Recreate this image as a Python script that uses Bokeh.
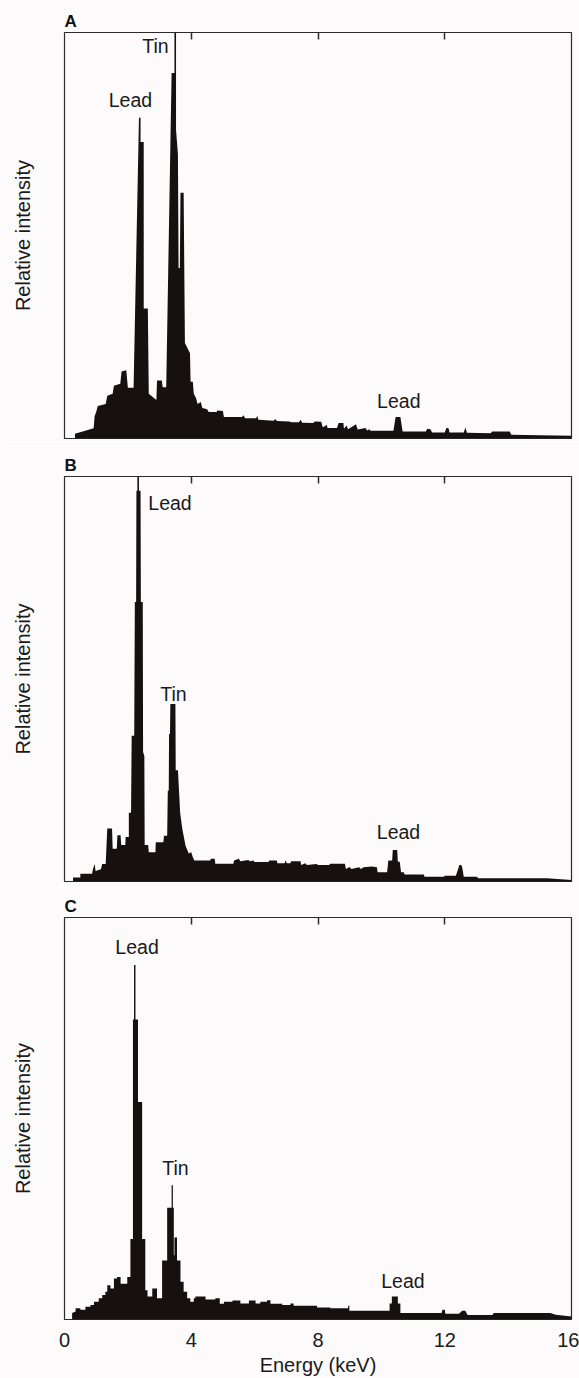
from bokeh.plotting import figure
from bokeh.layouts import column
from bokeh.models import Range1d, LinearAxis, FixedTicker, ColumnDataSource
from bokeh.core.properties import value
from bokeh.embed import file_html
from bokeh.resources import INLINE

FONT = "Liberation Sans"
BG = "#fdfafc"
INK = "#161010"
LINE = "#2b2b2b"

# ---------------- data (energy in keV, relative intensity in % of panel height) ----------------
energy_a = [0.33, 0.33, 0.6, 0.92, 0.95, 1.0, 1.05, 1.3, 1.35, 1.52, 1.56, 1.76, 1.8, 1.95, 2.0, 2.18,
            2.35, 2.4, 2.4, 2.5, 2.5, 2.63, 2.66, 2.9, 2.92, 3.07, 3.1, 3.21, 3.38, 3.47, 3.47, 3.52,
            3.52, 3.58, 3.6, 3.64, 3.66, 3.76, 3.8, 3.96, 3.98, 4.05, 4.08, 4.15, 4.2, 4.3, 4.35, 4.5,
            4.55, 4.8, 4.82, 5.0, 5.03, 5.6, 5.65, 5.7, 6.05, 6.08, 6.12, 6.6, 6.65, 6.7, 7.1, 7.15,
            7.4, 7.45, 7.5, 7.85, 7.9, 8.1, 8.15, 8.28, 8.3, 8.6, 8.65, 8.8, 8.82, 8.9, 8.95, 9.2,
            9.25, 9.5, 9.55, 9.62, 9.65, 10.38, 10.45, 10.6, 10.67, 11.4, 11.45, 11.55, 11.6, 12.0,
            12.05, 12.12, 12.15, 12.6, 12.65, 12.7, 13.45, 13.5, 14.05, 14.1, 15.0, 16.0, 16.0]
counts_a = [0, 1.2, 1.8, 2.5, 5.5, 6.5, 8, 8.5, 10.5, 11, 13, 13.5, 16.5, 16.8, 12.5, 12.5,
            79, 79, 73, 73, 32, 32, 11, 9.5, 14.3, 14.3, 12.6, 12.6, 90, 90, 100, 100,
            76, 70, 42, 42, 60.5, 60.5, 23.5, 21, 14, 14, 11, 10, 8.5, 9, 7.5, 7.2,
            6.5, 6.5, 6.9, 6.8, 5.3, 5.3, 5.7, 5.0, 5.0, 5.6, 4.6, 4.4, 4.8, 4.3, 4.2, 4.0,
            4.0, 4.6, 3.9, 3.8, 4.2, 4.1, 2.8, 3.3, 2.6, 2.6, 3.8, 3.8, 2.4, 3.2, 2.3, 3.5,
            2.2, 2.6, 2.0, 2.3, 1.9, 1.9, 5.3, 5.3, 1.7, 1.7, 2.4, 2.3, 1.5, 1.5,
            2.6, 2.5, 1.5, 1.5, 2.7, 1.4, 1.3, 1.7, 1.7, 0.9, 0.8, 0.65, 0]

energy_b = [0.27, 0.27, 0.5, 0.5, 0.87, 0.9, 0.95, 0.98, 1.15, 1.19, 1.3, 1.35, 1.5, 1.52, 1.65, 1.67,
            1.77, 1.79, 1.92, 1.93, 2.03, 2.03, 2.1, 2.12, 2.2, 2.22, 2.26, 2.27, 2.3, 2.3, 2.35,
            2.35, 2.4, 2.41, 2.47, 2.48, 2.52, 2.53, 2.64, 2.66, 2.87, 2.88, 3.12, 3.14, 3.24, 3.26,
            3.29, 3.3, 3.33, 3.34, 3.5, 3.51, 3.58, 3.65, 3.72, 3.82, 3.92, 4.0, 4.05, 4.1, 4.6,
            4.62, 4.74, 4.76, 5.33, 5.35, 5.5, 5.55, 5.8, 5.85, 5.97, 5.99, 6.44, 6.46, 6.7, 6.72,
            6.95, 6.97, 7.02, 7.13, 7.15, 7.45, 7.47, 7.6, 7.65, 7.95, 8.0, 8.35, 8.39, 8.85, 8.88,
            9.0, 9.05, 9.3, 9.35, 9.44, 9.7, 9.86, 9.88, 10.18, 10.22, 10.34, 10.36, 10.5, 10.52,
            10.58, 10.62, 10.71, 10.73, 11.34, 11.36, 11.97, 12.0, 12.35, 12.42, 12.46, 12.52,
            12.55, 12.6, 13.02, 13.05, 15.23, 16.0, 16.0]
counts_b = [0, 1.0, 1.0, 1.9, 1.9, 3.1, 4.3, 2.6, 3.0, 4.3, 4.3, 13.1, 13.1, 8.1, 8.1, 11.4,
            11.4, 9, 9, 11, 11, 17, 17, 36, 36, 69, 69, 96.5, 96.5, 100, 100,
            96.5, 96.5, 69, 69, 32, 31, 9, 9, 7.2, 7.2, 9.7, 9.7, 11.3, 11.3, 22.4,
            22.4, 36.4, 36.4, 43.8, 43.8, 27.5, 27.5, 17, 12.9, 8.8, 6.9, 7.2, 6.0, 5.2, 5.2,
            5.6, 5.6, 4.4, 4.4, 5.2, 5.6, 5.0, 5.3, 5.0, 5.2, 4.8, 4.8, 5.2, 5.2, 4.5,
            4.5, 5.2, 4.5, 4.5, 5.0, 5.0, 4.1, 4.5, 4.1, 4.3, 4.1, 4.1, 4.4, 4.4, 3.1,
            3.6, 3.1, 3.5, 3.1, 3.5, 3.7, 3.5, 2.3, 2.3, 5.2, 5.2, 7.8, 7.8, 4.9,
            4.9, 2.3, 2.3, 1.7, 1.7, 1.2, 1.2, 1.4, 1.4, 3.0, 4.1, 4.1,
            3.5, 1.2, 1.2, 0.8, 0.8, 0.4, 0]

energy_c = [0.24, 0.24, 0.35, 0.35, 0.5, 0.5, 0.66, 0.66, 0.82, 0.82, 0.93, 0.93, 1.08, 1.08, 1.19,
            1.19, 1.29, 1.29, 1.35, 1.35, 1.45, 1.45, 1.56, 1.56, 1.66, 1.66, 1.77, 1.77, 1.98, 1.98,
            2.08, 2.08, 2.16, 2.16, 2.195, 2.195, 2.24, 2.24, 2.32, 2.32, 2.45, 2.45, 2.55, 2.55, 2.62,
            2.62, 2.77, 2.77, 2.92, 2.92, 3.08, 3.08, 3.24, 3.24, 3.38, 3.38, 3.42, 3.42, 3.45, 3.45,
            3.47, 3.47, 3.55, 3.55, 3.66, 3.66, 3.76, 3.76, 3.87, 3.87, 3.97, 3.97, 4.08, 4.08, 4.13,
            4.13, 4.45, 4.45, 4.76, 4.76, 4.9, 4.9, 5.03, 5.03, 5.3, 5.3, 5.55, 5.55, 5.82, 5.82,
            6.03, 6.03, 6.18, 6.18, 6.39, 6.39, 6.5, 6.5, 6.87, 6.87, 7.13, 7.13, 7.23, 7.23, 7.97,
            7.97, 8.39, 8.39, 8.95, 8.95, 8.99, 8.99, 10.26, 10.26, 10.33, 10.33, 10.52, 10.52, 10.6,
            10.6, 11.9, 11.93, 12.0, 12.02, 12.45, 12.55, 12.65, 12.72, 13.5, 13.55, 15.33, 15.5,
            16.0, 16.0]
counts_c = [0, 1.6, 2.0, 2.8, 2.8, 2.4, 2.4, 3.2, 3.2, 3.6, 3.6, 4.4, 4.4, 5.3, 5.3,
            6.1, 6.1, 6.9, 6.9, 8.5, 8.5, 7.7, 7.7, 10.2, 10.2, 10.6, 10.6, 8.9, 8.9, 10.6,
            10.6, 20, 20, 74.6, 74.6, 88.2, 88.2, 74.6, 74.6, 54.1, 54.1, 20, 20, 7.3, 7.3,
            5.7, 5.7, 7.7, 7.7, 5.3, 5.3, 14.7, 14.7, 27.8, 27.8, 33.4, 33.4, 27.8, 27.8, 16,
            16, 20.4, 20.4, 14.7, 14.7, 9.4, 9.4, 6.9, 6.9, 5.3, 5.3, 4.4, 4.4, 5.3, 5.3,
            5.7, 5.7, 5.0, 5.0, 5.3, 5.3, 3.9, 3.9, 4.4, 4.4, 4.7, 4.7, 4.0, 4.0, 4.7,
            4.7, 4.0, 4.0, 4.4, 4.4, 4.8, 4.8, 3.9, 3.9, 3.6, 3.6, 4.0, 4.0, 3.4, 3.4,
            3.0, 3.0, 2.8, 2.8, 3.4, 3.4, 2.2, 2.2, 4.0, 4.0, 5.7, 5.7, 4.0, 4.0,
            1.6, 1.6, 2.4, 2.4, 1.4, 1.4, 2.2, 2.2, 1.15, 1.15, 1.6, 1.6, 1.2,
            0.74, 0]

labels_a = ["Tin", "Lead", "Lead"]
label_x_a = [2.87, 2.08, 10.55]
label_y_a = [96.6, 83.4, 9.2]

labels_b = ["Lead", "Tin", "Lead"]
label_x_b = [3.33, 3.44, 10.54]
label_y_b = [93.5, 46.4, 12.1]

labels_c = ["Lead", "Tin", "Lead"]
label_x_c = [2.29, 3.50, 10.68]
label_y_c = [92.6, 37.6, 9.5]

top_ticks = [4, 8, 12]
bottom_ticks = [0, 4, 8, 12, 16]


def make_panel(letter, energy, counts, lx, ly, lt, height, border_top, border_bottom, bottom_axis=False):
    p = figure(width=579, height=height, x_range=Range1d(0, 16), y_range=Range1d(0, 100),
               output_backend="svg", toolbar_location=None,
               x_axis_location=None, y_axis_location=None,
               min_border_left=64, min_border_right=8,
               min_border_top=border_top, min_border_bottom=border_bottom,
               background_fill_color=BG, border_fill_color=BG,
               outline_line_color=LINE, outline_line_width=1.2)
    p.xgrid.visible = False
    p.ygrid.visible = False

    p.varea(x=energy, y1=[0] * len(energy), y2=counts, fill_color=INK)

    src = ColumnDataSource(dict(x=lx, y=ly, t=lt))
    p.text(x="x", y="y", text="t", source=src, text_font=value(FONT), text_font_size="19.5px",
           text_align="center", text_baseline="middle", text_color="#1a1a1a")

    top_ax = LinearAxis(ticker=FixedTicker(ticks=top_ticks), major_tick_in=7, major_tick_out=0,
                        minor_tick_line_color=None,
                        major_label_overrides={t: "" for t in top_ticks},
                        major_label_text_font_size="1px",
                        major_label_standoff=0, axis_line_color=None,
                        major_tick_line_color=LINE, major_tick_line_width=1.5)
    p.add_layout(top_ax, "above")

    left_ax = LinearAxis(ticker=FixedTicker(ticks=[]), axis_label="Relative intensity",
                         axis_label_text_font=FONT, axis_label_text_font_size="20px",
                         axis_label_text_font_style="normal", axis_label_text_color="#1a1a1a",
                         axis_label_standoff=31, major_label_standoff=0,
                         axis_line_color=None, major_tick_line_color=None,
                         minor_tick_line_color=None, major_tick_in=0, major_tick_out=0)
    p.add_layout(left_ax, "left")

    if bottom_axis:
        bot = LinearAxis(ticker=FixedTicker(ticks=bottom_ticks), axis_label="Energy (keV)",
                         major_label_text_font=FONT, major_label_text_font_size="20px",
                         major_label_text_color="#1a1a1a",
                         axis_label_text_font=FONT, axis_label_text_font_size="20px",
                         axis_label_text_font_style="normal", axis_label_text_color="#1a1a1a",
                         major_tick_in=0, major_tick_out=0, major_tick_line_color=None,
                         minor_tick_line_color=None, axis_line_color=None,
                         major_label_standoff=13, axis_label_standoff=4)
        p.add_layout(bot, "below")

    p.title.text = letter
    p.title.text_font = FONT
    p.title.text_font_size = "17px"
    p.title.text_font_style = "bold"
    p.title.text_color = "#111111"
    p.title.align = "left"
    p.title.standoff = 4
    return p


pa = make_panel("A", energy_a, counts_a, label_x_a, label_y_a, labels_a, 446, 32, 8)
pb = make_panel("B", energy_b, counts_b, label_x_b, label_y_b, labels_b, 441, 30, 6)
pc = make_panel("C", energy_c, counts_c, label_x_c, label_y_c, labels_c, 491, 30, 55, bottom_axis=True)

layout = column(pa, pb, pc, spacing=0)

open("out.html", "w").write(file_html(layout, INLINE))
